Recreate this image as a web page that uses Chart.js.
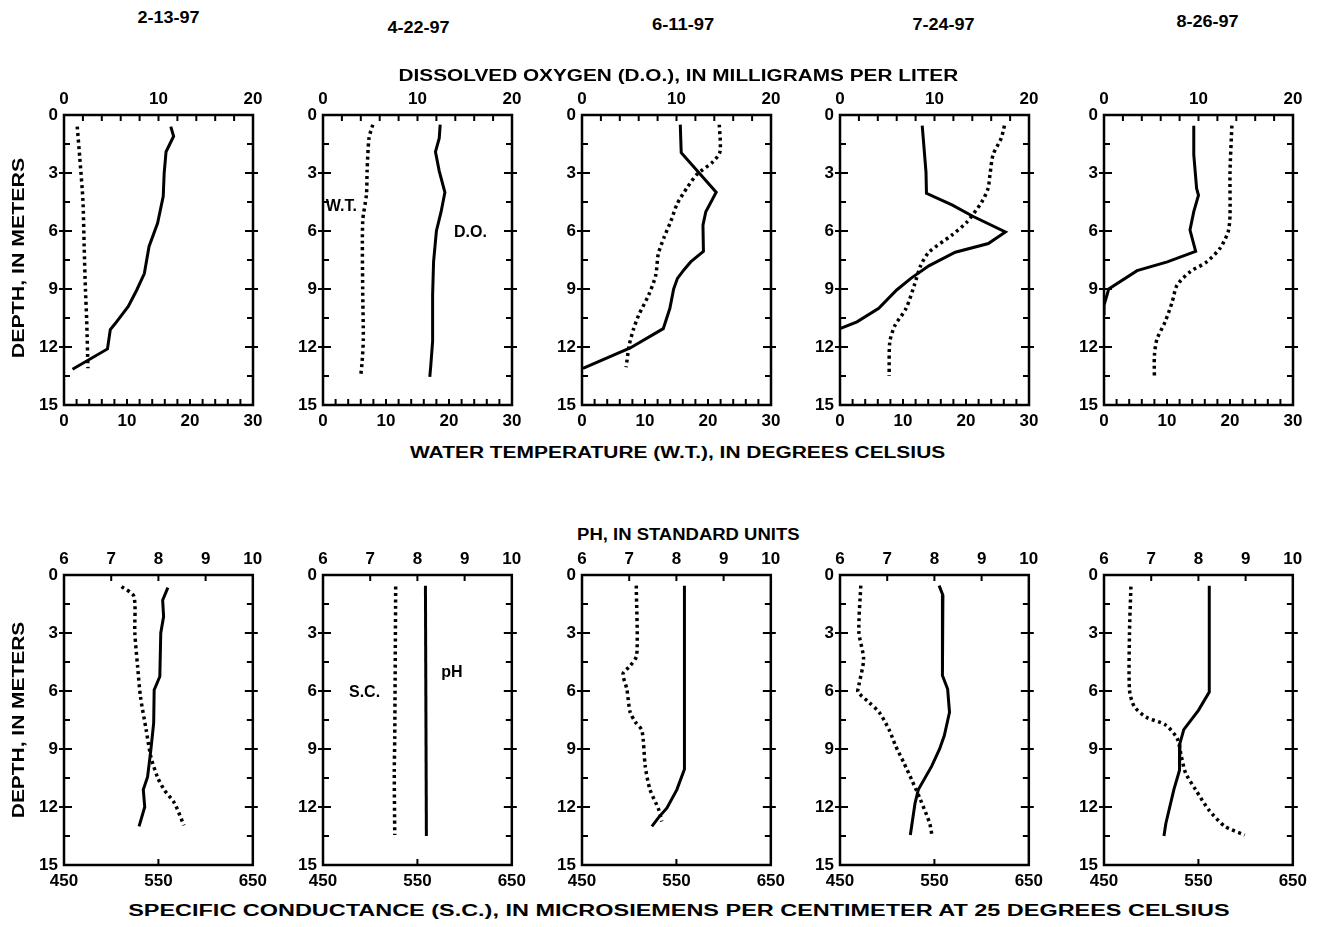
<!DOCTYPE html>
<html>
<head>
<meta charset="utf-8">
<script src="https://cdn.jsdelivr.net/npm/chart.js@4.4.1/dist/chart.umd.min.js"></script>
<style>
  body { margin: 0; background: #fff; width: 1318px; height: 927px; position: relative; overflow: hidden;
         font-family: 'Liberation Sans', Arial, sans-serif; font-weight: bold; color: #000; }
  .lbl { position: absolute; white-space: nowrap; font-size: 16px; line-height: 1; }
  canvas { position: absolute; }
</style>
</head>
<body>
<script>
// sampling dates, one column each
const dates = ['2-13-97', '4-22-97', '6-11-97', '7-24-97', '8-26-97'];

// tick labels
const depthTicks = [0, 3, 6, 9, 12, 15];
const doTicks = [0, 10, 20];
const wtTicks = [0, 10, 20, 30];
const phTicks = [6, 7, 8, 9, 10];
const scTicks = [450, 550, 650];

// inside tick marks
const depthMarks = [1.5, 3, 4.5, 6, 7.5, 9, 10.5, 12, 13.5];
const doMarks = [2, 4, 6, 8, 10, 12, 14, 16, 18];
const wtMarks = [2, 4, 6, 8, 10, 12, 14, 16, 18, 20, 22, 24, 26, 28];
const phMarks = [7, 8, 9];
const scMarks = [550];

// dissolved oxygen (mg/L) [value, depth m]
const do_0213 = [[11.3,0.6],[11.6,1.1],[10.8,1.9],[10.6,3.0],[10.5,4.2],[9.9,5.6],[9.0,6.8],[8.5,8.2],[7.7,9.05],[6.8,9.9],[5.4,10.8],[4.9,11.1],[4.6,12.1],[0.9,13.15]];
const do_0422 = [[12.4,0.5],[12.3,1.2],[11.9,1.9],[12.3,2.9],[12.9,4.0],[12.5,5.0],[12.0,6.0],[11.7,7.6],[11.6,9.3],[11.6,11.7],[11.4,13.0],[11.3,13.55]];
const do_0611 = [[10.4,0.5],[10.5,1.95],[14.2,4.0],[13.1,5.0],[12.8,5.7],[12.85,7.05],[11.5,7.6],[10.8,8.0],[10.1,8.45],[9.7,9.0],[9.3,10.0],[8.6,11.05],[5.1,12.05],[0.1,13.1]];
const do_0724 = [[8.7,0.55],[8.9,1.75],[9.1,2.95],[9.15,4.05],[11.85,4.65],[14.1,5.25],[17.5,6.05],[15.7,6.65],[12.2,7.1],[9.4,7.8],[7.5,8.45],[6.0,9.05],[4.1,10.0],[1.8,10.7],[0,11.05]];
const do_0826 = [[9.5,0.55],[9.5,2.05],[9.8,3.8],[10.0,4.15],[9.5,5.0],[9.1,5.95],[9.7,7.05],[6.7,7.6],[3.5,8.05],[0.5,9.0],[0,9.85],[0,10.35]];

// water temperature (deg C) [value, depth m]
const wt_0213 = [[2.1,0.6],[2.5,2.2],[3.0,4.4],[3.2,6.8],[3.4,9.0],[3.6,10.6],[3.8,13.1]];
const wt_0422 = [[7.9,0.5],[7.3,1.2],[7.0,2.9],[6.9,4.1],[6.3,5.5],[6.3,9.0],[6.4,11.6],[6.2,12.8],[6.0,13.45]];
const wt_0611 = [[21.8,0.5],[21.9,1.9],[20.7,2.45],[18.3,3.05],[16.7,3.75],[15.1,4.6],[14.1,5.5],[13.0,6.35],[12.1,7.2],[11.7,8.3],[10.6,9.3],[9.0,10.35],[8.2,11.05],[7.5,11.9],[7.0,13.05]];
const wt_0724 = [[26.1,0.55],[25.6,1.2],[24.3,2.05],[23.8,3.1],[23.5,3.8],[22.5,4.5],[20.1,5.55],[17.8,6.2],[14.1,7.1],[12.8,7.8],[11.8,8.8],[10.5,10.0],[8.7,10.9],[7.9,11.75],[7.8,13.5]];
const wt_0826 = [[20.3,0.55],[20.0,2.95],[20.0,5.2],[19.7,6.05],[18.4,6.9],[16.3,7.6],[13.7,8.1],[11.6,8.8],[10.8,9.7],[9.7,10.7],[8.4,11.6],[8.0,12.45],[8.0,13.55]];

// pH (standard units) [value, depth m]
const ph_0213 = [[8.2,0.65],[8.09,1.3],[8.11,2.15],[8.05,3.0],[8.03,5.25],[7.91,5.95],[7.9,7.65],[7.84,9.05],[7.77,10.45],[7.68,11.1],[7.71,12.0],[7.59,13.0]];
const ph_0422 = [[8.17,0.55],[8.19,13.5]];
const ph_0611 = [[8.17,0.55],[8.17,10.05],[8.01,11.1],[7.8,12.05],[7.62,12.55],[7.48,13.0]];
const ph_0724 = [[8.1,0.55],[8.18,1.05],[8.17,2.95],[8.17,5.2],[8.28,5.9],[8.32,7.1],[8.21,8.3],[8.11,9.0],[7.94,9.9],[7.66,11.1],[7.59,11.8],[7.49,13.45]];
const ph_0826 = [[8.23,0.55],[8.23,6.05],[8.0,7.0],[7.69,8.0],[7.61,8.7],[7.6,10.1],[7.48,11.1],[7.31,12.85],[7.27,13.5]];

// specific conductance (uS/cm) [value, depth m]
const sc_0213 = [[511,0.6],[524,1.1],[525,3.0],[528,4.75],[531,6.3],[537,8.0],[542,9.4],[549,10.45],[556,11.1],[567,11.8],[577,12.95]];
const sc_0422 = [[527,0.6],[526,8.4],[525.5,10.2],[526,13.45]];
const sc_0611 = [[507.5,0.55],[508,4.15],[501,4.7],[493.5,5.1],[497.5,5.9],[501,7.1],[506.5,7.6],[513.5,8.05],[517,9.9],[522,11.1],[531,12.1],[534.5,12.75]];
const sc_0724 = [[472,0.55],[470,2.95],[475,4.35],[470,5.7],[469,6.05],[481,6.6],[491.5,7.1],[502,8.0],[509,8.85],[517.5,9.7],[526,10.6],[535,11.6],[545,12.85],[547.5,13.5]];
const sc_0826 = [[478.5,0.6],[477,3.0],[477,5.95],[482,6.8],[494.5,7.35],[515,7.75],[527.5,8.45],[532,9.4],[536.5,10.25],[547,11.1],[561,12.15],[578,13.0],[599,13.45]];

// layout
const plotLefts = [64, 323, 582, 840, 1104];
const rowTops = [115, 575];
const PLOT_W = 189, PLOT_H = 290;
const PAD_L = 46, PAD_R = 20, PAD_T = 32;
const tickFont = { family: "'Liberation Sans', Arial, sans-serif", size: 17, weight: 'bold' };

const rows = [
  { top: { min: 0, max: 20, ticks: doTicks, marks: doMarks },
    bottom: { min: 0, max: 30, ticks: wtTicks, marks: wtMarks },
    solid: [do_0213, do_0422, do_0611, do_0724, do_0826],
    dotted: [wt_0213, wt_0422, wt_0611, wt_0724, wt_0826],
    notes: { 1: [{ text: 'W.T.', axis: 'xb', x: 2.9, y: 4.75 }, { text: 'D.O.', axis: 'xt', x: 15.6, y: 6.1 }] } },
  { top: { min: 6, max: 10, ticks: phTicks, marks: phMarks },
    bottom: { min: 450, max: 650, ticks: scTicks, marks: scMarks },
    solid: [ph_0213, ph_0422, ph_0611, ph_0724, ph_0826],
    dotted: [sc_0213, sc_0422, sc_0611, sc_0724, sc_0826],
    notes: { 1: [{ text: 'S.C.', axis: 'xb', x: 494, y: 6.1 }, { text: 'pH', axis: 'xt', x: 8.73, y: 5.07 }] } }
];

// frame, inward ticks and in-panel notes
const framePlugin = {
  id: 'frame',
  afterDraw(chart, args, opts) {
    const { ctx, chartArea: a, scales } = chart;
    ctx.save();
    ctx.strokeStyle = '#000';
    ctx.lineWidth = 2.5;
    ctx.strokeRect(a.left, a.top, a.right - a.left, a.bottom - a.top);
    ctx.lineWidth = 2;
    ctx.beginPath();
    depthMarks.forEach(v => {
      const y = scales.y.getPixelForValue(v);
      const major = v % 3 === 0;
      ctx.moveTo(a.left - (major ? 5 : 0), y); ctx.lineTo(a.left + (major ? 8 : 6), y);
      ctx.moveTo(a.right + (major ? 5 : 0), y); ctx.lineTo(a.right - (major ? 8 : 6), y);
    });
    opts.topMarks.forEach(v => {
      const x = scales.xt.getPixelForValue(v);
      ctx.moveTo(x, a.top); ctx.lineTo(x, a.top + 6);
    });
    opts.bottomMarks.forEach(v => {
      const x = scales.xb.getPixelForValue(v);
      ctx.moveTo(x, a.bottom); ctx.lineTo(x, a.bottom - 6);
    });
    ctx.stroke();
    ctx.fillStyle = '#000';
    ctx.font = "bold 16px 'Liberation Sans', Arial, sans-serif";
    ctx.textAlign = 'center';
    ctx.textBaseline = 'middle';
    (opts.notes || []).forEach(n => {
      ctx.fillText(n.text, scales[n.axis].getPixelForValue(n.x), scales.y.getPixelForValue(n.y));
    });
    ctx.restore();
  }
};

function xAxis(spec, position) {
  return {
    type: 'linear', position, min: spec.min, max: spec.max,
    afterBuildTicks: s => { s.ticks = spec.ticks.map(v => ({ value: v })); },
    afterFit: s => { s.height = PAD_T; },
    grid: { display: false, drawTicks: false }, border: { display: false },
    ticks: { color: '#000', font: tickFont, padding: position === 'top' ? 5 : 6, maxRotation: 0, autoSkip: false }
  };
}

function toPoints(arr) {
  return arr.map(([v, d]) => ({ x: v, y: d }));
}

function makePanel(r, col) {
  const row = rows[r];
  const c = document.createElement('canvas');
  const w = PLOT_W + PAD_L + PAD_R, h = PLOT_H + PAD_T * 2;
  c.width = w; c.height = h;
  c.style.width = w + 'px'; c.style.height = h + 'px';
  c.style.left = (plotLefts[col] - PAD_L) + 'px';
  c.style.top = (rowTops[r] - PAD_T) + 'px';
  document.body.appendChild(c);
  new Chart(c, {
    type: 'scatter',
    data: {
      datasets: [
        { data: toPoints(row.solid[col]), xAxisID: 'xt', yAxisID: 'y', showLine: true,
          borderColor: '#000', borderWidth: 3, pointRadius: 0, tension: 0 },
        { data: toPoints(row.dotted[col]), xAxisID: 'xb', yAxisID: 'y', showLine: true,
          borderColor: '#000', borderWidth: 3.5, borderDash: [3, 3.5], pointRadius: 0, tension: 0.25 }
      ]
    },
    options: {
      responsive: false, animation: false,
      layout: { padding: { left: 0, right: PAD_R, top: 0, bottom: 0 } },
      plugins: {
        legend: { display: false }, tooltip: { enabled: false },
        frame: { topMarks: row.top.marks, bottomMarks: row.bottom.marks, notes: row.notes[col] }
      },
      scales: {
        xt: xAxis(row.top, 'top'),
        xb: xAxis(row.bottom, 'bottom'),
        y: {
          type: 'linear', position: 'left', reverse: true, min: 0, max: 15,
          afterBuildTicks: s => { s.ticks = depthTicks.map(v => ({ value: v })); },
          afterFit: s => { s.width = PAD_L; },
          grid: { display: false, drawTicks: false }, border: { display: false },
          ticks: { color: '#000', font: tickFont, padding: 6 }
        }
      }
    },
    plugins: [framePlugin]
  });
}

for (let r = 0; r < 2; r++) for (let col = 0; col < 5; col++) makePanel(r, col);

// page texts, fitted to the widths seen in the picture
function label(text, cx, cy, width, rotate) {
  const el = document.createElement('div');
  el.className = 'lbl';
  el.textContent = text;
  document.body.appendChild(el);
  const k = width / el.offsetWidth;
  el.style.left = (cx - el.offsetWidth / 2) + 'px';
  el.style.top = (cy - el.offsetHeight / 2) + 'px';
  el.style.transform = (rotate ? 'rotate(-90deg) ' : '') + 'scaleX(' + k.toFixed(3) + ')';
}

const dateCenters = [[168, 18], [418, 28], [683, 25], [943, 25], [1207, 22]];
dates.forEach((d, i) => label(d, dateCenters[i][0], dateCenters[i][1], 62));
label('DISSOLVED OXYGEN (D.O.), IN MILLIGRAMS PER LITER', 678, 76, 560);
label('WATER TEMPERATURE (W.T.), IN DEGREES CELSIUS', 677, 453, 535);
label('PH, IN STANDARD UNITS', 688, 535, 223);
label('SPECIFIC CONDUCTANCE (S.C.), IN MICROSIEMENS PER CENTIMETER AT 25 DEGREES CELSIUS', 679, 911, 1102);
label('DEPTH, IN METERS', 19, 258, 200, true);
label('DEPTH, IN METERS', 19, 720, 196, true);
</script>
</body>
</html>
